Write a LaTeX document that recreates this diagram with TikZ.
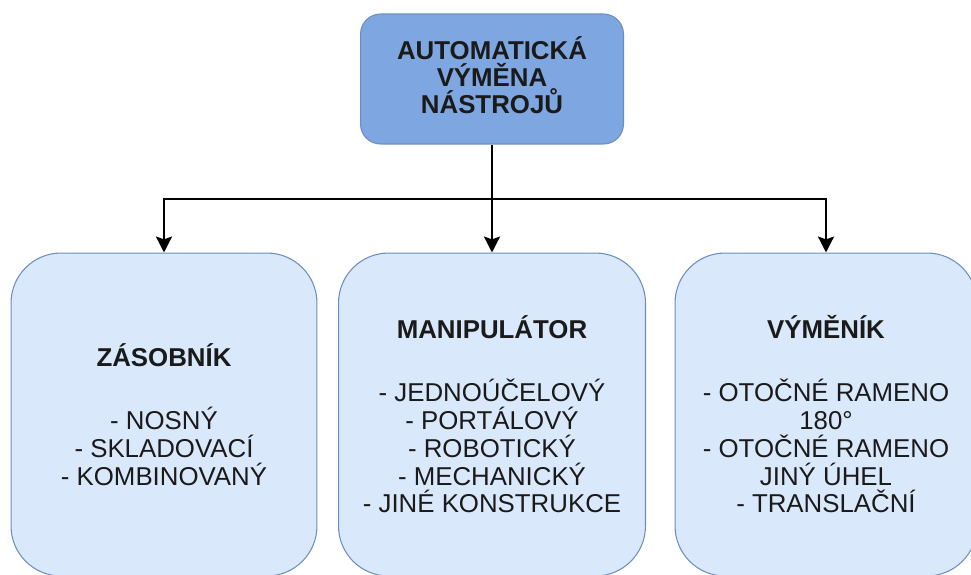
\documentclass[tikz,border=0pt]{standalone}
\usepackage{fontspec}
\setmainfont{Liberation Sans}
\usetikzlibrary{positioning, arrows.meta}
\definecolor{hlavni}{HTML}{7EA6E0}
\definecolor{vetev}{HTML}{DAE8FC}
\definecolor{okraj}{HTML}{6C8EBF}
\definecolor{pismo}{HTML}{1A1A1A}

\begin{document}
\begin{tikzpicture}[x=0.02cm, y=-0.02cm,
    box/.style={draw=okraj, line width=0.6pt, align=center, text=pismo,
      inner sep=0pt, font=\fontsize{14.7}{15.8}\selectfont},
    rootbox/.style={box, fill=hlavni, rounded corners=0.4cm,
      minimum width=5.26cm, minimum height=2.6cm, text depth=0.16cm,
      font=\bfseries\fontsize{14.7}{15.6}\selectfont},
    leafbox/.style={box, fill=vetev, rounded corners=1cm, minimum height=6.46cm},
    link/.style={line width=1.6pt, -{Stealth[width=9pt,length=9pt,inset=1.5pt]}}]
  \useasboundingbox (0,0) rectangle (971,575);

  % horni uzel
  \node[rootbox] (avn) at (492,79) {AUTOMATICKÁ\\VÝMĚNA\\NÁSTROJŮ};

  % tri vetve
  \node[leafbox, minimum width=6.12cm] (zas) at (164,414.5)
    {\textbf{ZÁSOBNÍK}\\[20pt]- NOSNÝ\\- SKLADOVACÍ\\- KOMBINOVANÝ};
  \node[leafbox, minimum width=6.14cm] (man) at (492,414.5)
    {\textbf{MANIPULÁTOR}\\[20pt]- JEDNOÚČELOVÝ\\- PORTÁLOVÝ\\- ROBOTICKÝ\\- MECHANICKÝ\\- JINÉ KONSTRUKCE};
  \node[leafbox, minimum width=6.04cm] (vym) at (826,414.5)
    {\textbf{VÝMĚNÍK}\\[20pt]- OTOČNÉ RAMENO\\180°\\- OTOČNÉ RAMENO\\JINÝ ÚHEL\\- TRANSLAČNÍ};

  % spojnice
  \coordinate (split) at (492,199);
  \draw[link] (avn.south) -- (man.north);
  \draw[link] (split) -| (zas.north);
  \draw[link] (split) -| (vym.north);
\end{tikzpicture}
\end{document}
